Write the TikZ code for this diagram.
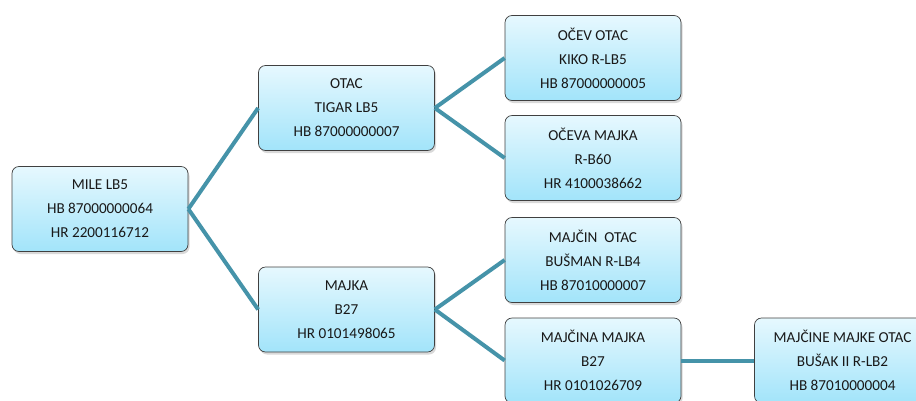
\documentclass[tikz,border=0pt]{standalone}
\usepackage{fontspec}
\setmainfont{Carlito}
\usepackage{tikz}
\usetikzlibrary{positioning,shadows}
\definecolor{boxtop}{HTML}{E6F8FE}
\definecolor{boxbot}{HTML}{A2E4FA}
\definecolor{linkcol}{HTML}{4593A9}
\tikzstyle{person} = [rectangle, rounded corners=7pt, minimum width=176pt, minimum height=85pt, align=center, draw=black!75, line width=0.7pt, top color=boxtop, bottom color=boxbot, drop shadow={opacity=0.3, shadow xshift=1.5pt, shadow yshift=-2.5pt}, font=\fontsize{15.2}{24}\selectfont, text=black!90]
\tikzstyle{link} = [linkcol, line width=4pt]

\begin{document}
\begin{tikzpicture}[node distance=246.5pt]
      \clip (0,0) rectangle (916pt,-400pt);
      \node (mile) [person] at (100pt,-209pt) {MILE LB5\\HB 87000000064\\HR 2200116712};
      \node (otac) [person, right of=mile, yshift=101pt] {OTAC\\TIGAR LB5\\HB 87000000007};
      \node (majka) [person, right of=mile, yshift=-100.5pt] {MAJKA\\B27\\HR 0101498065};
      \node (ocevotac) [person, right of=otac, yshift=50pt] {OČEV OTAC\\KIKO R-LB5\\HB 87000000005};
      \node (ocevamajka) [person, right of=otac, yshift=-50pt] {OČEVA MAJKA\\R-B60\\HR 4100038662};
      \node (majcinotac) [person, right of=majka, yshift=49.5pt] {MAJČIN\ \ OTAC\\BUŠMAN R-LB4\\HB 87010000007};
      \node (majcinamajka) [person, right of=majka, yshift=-51pt] {MAJČINA MAJKA\\B27\\HR 0101026709};
      \node (majkeotac) [person, right of=majcinamajka, xshift=3pt] {MAJČINE MAJKE OTAC\\BUŠAK II R-LB2\\HB 87010000004};
      \draw [link] (mile.east) -- (otac.west);
      \draw [link] (mile.east) -- (majka.west);
      \draw [link] (otac.east) -- (ocevotac.west);
      \draw [link] (otac.east) -- (ocevamajka.west);
      \draw [link] (majka.east) -- (majcinotac.west);
      \draw [link] (majka.east) -- (majcinamajka.west);
      \draw [link] (majcinamajka.east) -- (majkeotac.west);

    \end{tikzpicture}
\end{document}
